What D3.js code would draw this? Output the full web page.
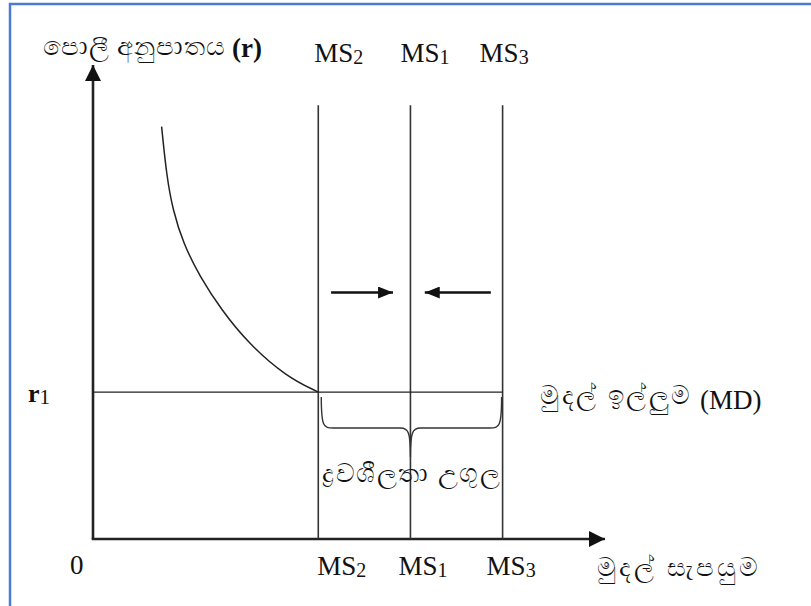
<!DOCTYPE html>
<html lang="si">
<head>
  <meta charset="UTF-8">
  <title>Liquidity trap</title>
  <style>
    body { margin: 0; background: #fff; }
    text { font-family: "Liberation Serif", "Times New Roman", serif; fill: #111; }
  </style>
</head>
<body>
  <script src="https://d3js.org/d3.v7.min.js"></script>
  <script>

    // money supply lines (quantity), in drawing order MS2, MS1, MS3
    const msSubs = ['2', '1', '3']
    const msQty = [44, 62, 80]
    const msTop = 91.5

    // interest rate r1 and money demand curve
    const rate1 = 31
    const mdQty = [13.4, 14.4, 15.6, 17.6, 20.9, 25.1, 30.3, 37.8, 44]
    const mdRate = [87, 76.4, 69.4, 62.4, 55.3, 48.3, 41.3, 34.2, 31]
    const mdEnd = 80

    // arrows showing the pull towards MS1
    const arrowRate = 52
    const arrowFrom = [46.5, 77.7]
    const arrowTo = [58.6, 64.8]

    const yTitle = 'පොලී අනුපාතය'
    const xTitle = 'මුදල් සැපයුම'
    const mdLabel = 'මුදල් ඉල්ලුම'
    const trapLabel = 'ද්‍රවශීලතා උගුල'

    const width = 811
    const height = 606

    const x = d3.scaleLinear().domain([0, 100]).range([93, 605])
    const y = d3.scaleLinear().domain([0, 100]).range([539, 65])

    const svg = d3.select('body')
      .append('svg')
      .attr('width', width)
      .attr('height', height)

    // frame (only top and left edges show)
    svg.append('rect')
      .attr('x', 10).attr('y', 4)
      .attr('width', 900).attr('height', 800)
      .attr('fill', 'none')
      .attr('stroke', '#4a7bd0')
      .attr('stroke-width', 2.5)

    const defs = svg.append('defs')
    defs.append('marker')
      .attr('id', 'bigHead')
      .attr('viewBox', '0 0 16 16')
      .attr('refX', 16).attr('refY', 8)
      .attr('markerWidth', 16).attr('markerHeight', 16)
      .attr('markerUnits', 'userSpaceOnUse')
      .attr('orient', 'auto')
      .append('path')
      .attr('d', 'M0,0 L16,8 L0,16 Z')
      .attr('fill', '#111')
    defs.append('marker')
      .attr('id', 'smallHead')
      .attr('viewBox', '0 0 15 12')
      .attr('refX', 15).attr('refY', 6)
      .attr('markerWidth', 15).attr('markerHeight', 12)
      .attr('markerUnits', 'userSpaceOnUse')
      .attr('orient', 'auto')
      .append('path')
      .attr('d', 'M0,0 L15,6 L0,12 Z')
      .attr('fill', '#111')

    // axes
    svg.append('line')
      .attr('x1', x(0)).attr('y1', y(0))
      .attr('x2', x(0)).attr('y2', y(100))
      .attr('stroke', '#222').attr('stroke-width', 2.6)
      .attr('marker-end', 'url(#bigHead)')
    svg.append('line')
      .attr('x1', x(0) - 1.3).attr('y1', y(0))
      .attr('x2', x(100)).attr('y2', y(0))
      .attr('stroke', '#222').attr('stroke-width', 2.6)
      .attr('marker-end', 'url(#bigHead)')

    // money supply verticals
    svg.selectAll('line.ms')
      .data(msQty)
      .join('line')
      .attr('class', 'ms')
      .attr('x1', d => x(d)).attr('x2', d => x(d))
      .attr('y1', y(msTop)).attr('y2', y(0))
      .attr('stroke', '#333').attr('stroke-width', 1.6)

    // r1 line
    svg.append('line')
      .attr('x1', x(0)).attr('x2', x(mdEnd))
      .attr('y1', y(rate1)).attr('y2', y(rate1))
      .attr('stroke', '#222').attr('stroke-width', 1.3)

    // money demand curve
    const curve = d3.line()
      .x(d => x(d[0]))
      .y(d => y(d[1]))
      .curve(d3.curveBasis)
    svg.append('path')
      .attr('d', curve(d3.zip(mdQty, mdRate)))
      .attr('fill', 'none')
      .attr('stroke', '#222').attr('stroke-width', 1.5)

    // arrows
    svg.selectAll('line.arr')
      .data(d3.zip(arrowFrom, arrowTo))
      .join('line')
      .attr('class', 'arr')
      .attr('x1', d => x(d[0])).attr('x2', d => x(d[1]))
      .attr('y1', y(arrowRate)).attr('y2', y(arrowRate))
      .attr('stroke', '#111').attr('stroke-width', 2.6)
      .attr('marker-end', 'url(#smallHead)')

    // brace under r1 between MS2 and MS3
    const bx0 = x(msQty[0]) + 3
    const bx1 = x(msQty[2]) - 1
    const bxm = x(msQty[1])
    const by0 = y(rate1) + 5
    const by1 = y(rate1) + 36
    const by2 = y(rate1) + 65
    const brace = d3.path()
    brace.moveTo(bx0, by0)
    brace.bezierCurveTo(bx0, by1 - 2, bx0 + 2, by1, bx0 + 12, by1)
    brace.lineTo(bxm - 10, by1)
    brace.bezierCurveTo(bxm - 2, by1, bxm, by1 + 4, bxm, by2)
    brace.bezierCurveTo(bxm, by1 + 4, bxm + 2, by1, bxm + 10, by1)
    brace.lineTo(bx1 - 12, by1)
    brace.bezierCurveTo(bx1 - 2, by1, bx1, by1 - 2, bx1, by0)
    svg.append('path')
      .attr('d', brace.toString())
      .attr('fill', 'none')
      .attr('stroke', '#333').attr('stroke-width', 1.4)

    // MS labels, top and bottom
    const msLabel = (sel) => {
      sel.append('tspan').text('MS')
      sel.append('tspan')
        .attr('font-size', 20)
        .attr('dy', 2)
        .text(d => d)
    }
    svg.selectAll('text.mstop')
      .data(msSubs)
      .join('text')
      .attr('class', 'mstop')
      .attr('x', (d, i) => x(msQty[i]) + [-4, -10, -23][i])
      .attr('y', 62)
      .attr('font-size', 27)
      .call(msLabel)
    svg.selectAll('text.msbot')
      .data(msSubs)
      .join('text')
      .attr('class', 'msbot')
      .attr('x', (d, i) => x(msQty[i]) + [-1, -12, -16][i])
      .attr('y', y(0) + 36)
      .attr('font-size', 27)
      .call(msLabel)

    svg.append('text')
      .attr('x', x(0) - 23).attr('y', y(0) + 35)
      .attr('font-size', 27)
      .text('0')

    const r1 = svg.append('text')
      .attr('x', 28).attr('y', y(rate1) + 10)
      .attr('font-size', 26)
    r1.append('tspan').attr('font-weight', 'bold').text('r')
    r1.append('tspan').attr('font-size', 21).attr('dy', 2).text('1')

    // Sinhala labels, fitted to the widths seen in the picture
    const sinhala = (tx, ty, len, str) => svg.append('text')
      .attr('x', tx).attr('y', ty)
      .attr('font-size', 26)
      .attr('fill', '#2a2a2a')
      .attr('textLength', len)
      .attr('lengthAdjust', 'spacing')
      .text(str)

    sinhala(43, 55, 182, yTitle)
    svg.append('text')
      .attr('x', 232).attr('y', 57)
      .attr('font-size', 27)
      .attr('font-weight', 'bold')
      .text('(r)')

    sinhala(540, y(rate1) + 12, 150, mdLabel)
    svg.append('text')
      .attr('x', 700).attr('y', y(rate1) + 17)
      .attr('font-size', 27)
      .text('(MD)')

    sinhala(597, y(0) + 37, 161, xTitle)
    sinhala(322, y(rate1) + 90, 178, trapLabel)

  </script>
</body>
</html>
